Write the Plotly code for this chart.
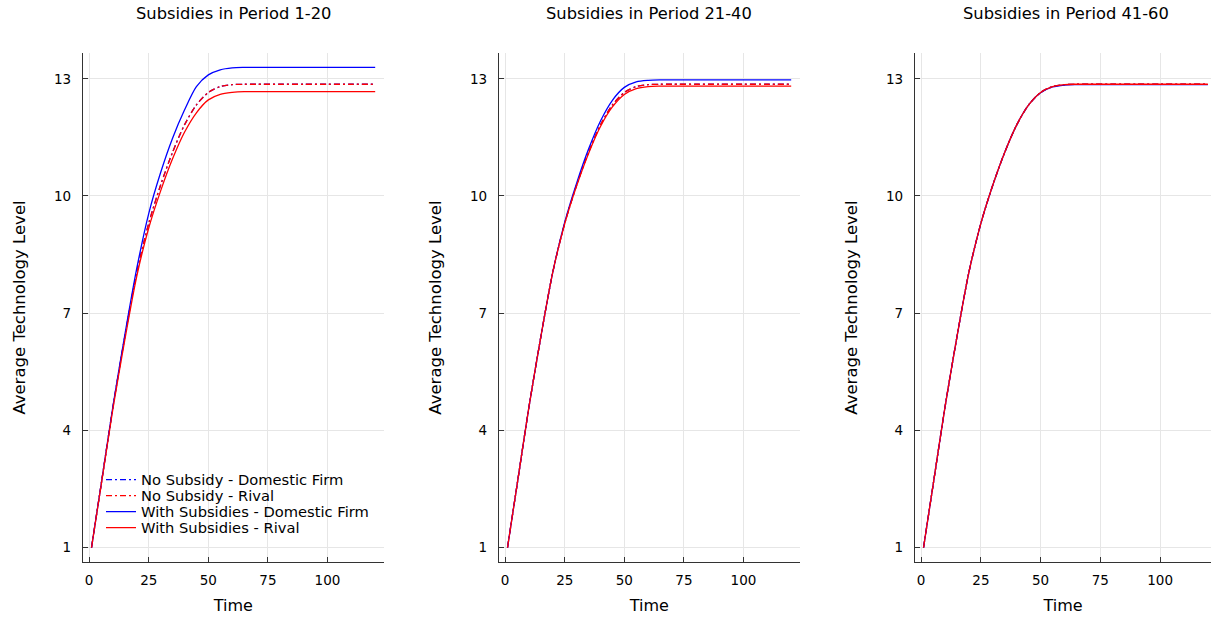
import plotly.graph_objects as go

# ---------------- data ----------------
time = [1, 5, 10, 15, 20, 25, 30, 35, 40, 45, 50, 55, 60, 65, 70, 80, 90, 100, 110, 120]

# No-subsidy baseline (same in every panel)
no_sub_domestic = [1.0, 2.6, 4.6, 6.4, 8.05, 9.3, 10.28, 11.12, 11.82, 12.33, 12.65, 12.8, 12.85, 12.86, 12.86, 12.86, 12.86, 12.86, 12.86, 12.86]
no_sub_rival    = [1.0, 2.6, 4.6, 6.4, 8.05, 9.3, 10.28, 11.12, 11.82, 12.33, 12.65, 12.8, 12.85, 12.86, 12.86, 12.86, 12.86, 12.86, 12.86, 12.86]

# Subsidies in period 1-20
p1_sub_domestic = [1.0, 2.6, 4.62, 6.45, 8.15, 9.55, 10.6, 11.48, 12.2, 12.8, 13.1, 13.23, 13.28, 13.29, 13.29, 13.29, 13.29, 13.29, 13.29, 13.29]
p1_sub_rival    = [1.0, 2.58, 4.56, 6.33, 7.95, 9.18, 10.13, 10.95, 11.63, 12.13, 12.46, 12.6, 12.65, 12.67, 12.67, 12.67, 12.67, 12.67, 12.67, 12.67]

# Subsidies in period 21-40
p2_sub_domestic = [1.0, 2.6, 4.6, 6.4, 8.05, 9.33, 10.33, 11.2, 11.92, 12.45, 12.78, 12.92, 12.96, 12.97, 12.97, 12.97, 12.97, 12.97, 12.97, 12.97]
p2_sub_rival    = [1.0, 2.6, 4.6, 6.4, 8.05, 9.29, 10.26, 11.09, 11.78, 12.28, 12.6, 12.75, 12.8, 12.81, 12.81, 12.81, 12.81, 12.81, 12.81, 12.81]

# Subsidies in period 41-60
p3_sub_domestic = [1.0, 2.6, 4.6, 6.4, 8.05, 9.3, 10.28, 11.12, 11.82, 12.33, 12.64, 12.79, 12.84, 12.85, 12.85, 12.85, 12.85, 12.85, 12.85, 12.85]
p3_sub_rival    = [1.0, 2.6, 4.6, 6.4, 8.05, 9.3, 10.28, 11.12, 11.82, 12.33, 12.65, 12.8, 12.85, 12.86, 12.86, 12.86, 12.86, 12.86, 12.86, 12.86]

panel_titles = ["Subsidies in Period 1-20", "Subsidies in Period 21-40", "Subsidies in Period 41-60"]
series_names = ["No Subsidy - Domestic Firm", "No Subsidy - Rival",
                "With Subsidies - Domestic Firm", "With Subsidies - Rival"]
x_ticks = [0, 25, 50, 75, 100]
y_ticks = [1, 4, 7, 10, 13]

panels = [
    (no_sub_domestic, no_sub_rival, p1_sub_domestic, p1_sub_rival),
    (no_sub_domestic, no_sub_rival, p2_sub_domestic, p2_sub_rival),
    (no_sub_domestic, no_sub_rival, p3_sub_domestic, p3_sub_rival),
]

# ---------------- style ----------------
W, H = 1211, 618
FONT = "DejaVu Sans"
BLUE, RED = "#0000FF", "#FF0000"
DASHDOT = "6px,3px,2px,3px"
styles = [(BLUE, DASHDOT), (RED, DASHDOT), (BLUE, "solid"), (RED, "solid")]

x_domains_px = [(83, 383.7), (499, 799.7), (915, 1211)]
x_ranges = [[-2.57, 123.57], [-2.57, 123.57], [-2.57, 121.3]]
y_dom = [1 - 562 / H, 1 - 53 / H]
y_range = [0.63, 13.66]
legend_rows_px = [480, 496, 512, 528]
legend_ids = ["legend", "legend2", "legend3", "legend4"]

fig = go.Figure()

for i, series in enumerate(panels):
    ax = "" if i == 0 else str(i + 1)
    for j, (vals, (col, dash)) in enumerate(zip(series, styles)):
        fig.add_trace(go.Scatter(
            x=time, y=vals, mode="lines",
            name=series_names[j],
            line=dict(color=col, width=1.3, dash=dash, shape="spline", smoothing=0.8),
            showlegend=(i == 0),
            legend=legend_ids[j],
            xaxis="x" + ax, yaxis="y" + ax,
        ))

axis_common = dict(
    showgrid=True, gridcolor="#e6e6e6", gridwidth=1,
    zeroline=False, showline=True, linecolor="#333333", linewidth=1.2,
    ticks="inside", ticklen=5, tickcolor="#333333", tickwidth=1,
    tickfont=dict(family=FONT, size=13.5, color="#000000"),
    mirror=False,
)

layout = dict(
    width=W, height=H,
    margin=dict(l=0, r=0, t=0, b=0),
    paper_bgcolor="white", plot_bgcolor="white",
    font=dict(family=FONT, color="#000000"),
    showlegend=True,
    annotations=[],
)

for k, lid in enumerate(legend_ids):
    layout[lid] = dict(
        x=101 / W, y=1 - legend_rows_px[k] / H, xanchor="left", yanchor="middle",
        bgcolor="rgba(255,255,255,0)", borderwidth=0,
        font=dict(family=FONT, size=14.7, color="#000000"),
        tracegroupgap=0,
    )

for i in range(3):
    ax = "" if i == 0 else str(i + 1)
    d0, d1 = x_domains_px[i]
    layout["xaxis" + ax] = dict(
        axis_common,
        domain=[d0 / W, min(d1 / W, 1.0)],
        range=x_ranges[i],
        tickvals=x_ticks, ticktext=[str(v) for v in x_ticks],
        anchor="y" + ax,
        ticklabelstandoff=6,
        title=dict(text="Time", font=dict(family=FONT, size=16), standoff=12),
    )
    layout["yaxis" + ax] = dict(
        axis_common,
        domain=y_dom,
        range=y_range,
        tickvals=y_ticks, ticktext=[str(v) for v in y_ticks],
        anchor="x" + ax,
        ticklabelstandoff=8,
        title=dict(text="Average Technology Level", font=dict(family=FONT, size=16.5), standoff=24),
    )
    layout["annotations"].append(dict(
        text=panel_titles[i], xref="paper", yref="paper",
        x=((d0 + d1) / 2 if i < 2 else (d0 + 1216) / 2) / W,
        y=1 - 14 / H, xanchor="center", yanchor="middle",
        showarrow=False, font=dict(family=FONT, size=16.3, color="#000000"),
    ))

fig.update_layout(**layout)
fig.write_html("out.html")
